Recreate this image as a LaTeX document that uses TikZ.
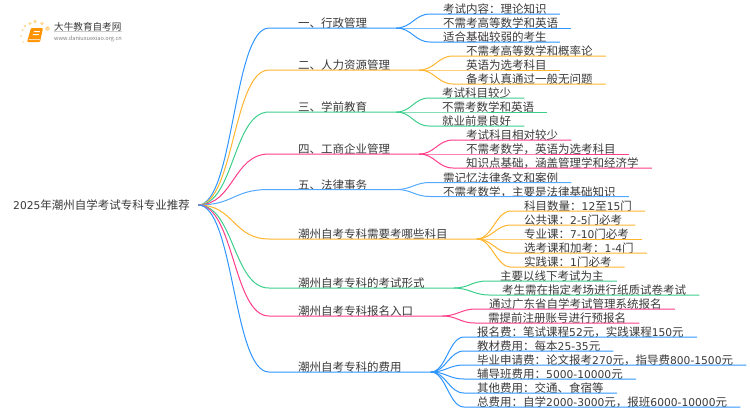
\documentclass[tikz,border=0pt]{standalone}
\usepackage{fontspec}
\setmainfont{Noto Sans CJK SC}
\setsansfont{Noto Sans CJK SC}
\newfontfamily\numfont[Scale=0.93]{DejaVu Sans}
\newcommand{\nb}[1]{{\numfont #1}}
\usetikzlibrary{backgrounds}

\definecolor{mapblue}{HTML}{2F96FF}
\definecolor{maporange}{HTML}{FFB52E}
\definecolor{mapgreen}{HTML}{3CCF8C}
\definecolor{mappink}{HTML}{FF3D8B}
\definecolor{mapsky}{HTML}{55AAFF}
\definecolor{maptext}{HTML}{3A3A3A}

\begin{document}
\begin{tikzpicture}
  [
    x = 1pt,
    y = -1pt,
    show background rectangle,
    background rectangle/.style = {fill=white},
    inner frame sep = 0pt,
    root label/.style = {anchor=west,inner xsep=8pt,inner ysep=0pt,font=\fontsize{11.5}{12}\selectfont,text=maptext},
    topic/.style = {anchor=south west,inner xsep=29pt,inner ysep=0pt,text depth=0pt,font=\fontsize{11.5}{12}\selectfont,text=maptext},
    leaf/.style = {anchor=south west,inner xsep=13pt,inner ysep=0pt,text depth=0pt,font=\fontsize{11.5}{12}\selectfont,text=maptext},
    map line/.style = {line width=1pt},
    far/.style = {to path={.. controls +(36,0) and +(-36,0) .. (\tikztotarget)}},
    near/.style = {to path={.. controls +(15,0) and +(-15,0) .. (\tikztotarget)}},
    sun/.style = {fill=maporange!50,draw=none},
    logo name/.style = {anchor=west,inner sep=0pt,font=\fontsize{9.6}{10}\selectfont,text=maptext},
    logo url/.style = {anchor=west,inner sep=0pt,font=\fontsize{5.6}{6}\selectfont,text=black!50},
  ]

  \useasboundingbox (0,0) rectangle (750,410);

  % logo
  \fill[sun] (25,26) circle (1.3);
  \fill[sun] (30,23.5) circle (1.7);
  \fill[sun] (35,21.5) circle (1.8);
  \fill[sun] (42,23.5) circle (1.9);
  \fill[sun] (47.5,28.5) circle (2.3);
  \fill[sun] (22.5,30) circle (1.2);
  \fill[sun] (21,36) circle (1);
  \fill[sun] (23,42) circle (.8);
  \fill[orange!85!yellow,rounded corners=1pt] (31,28) -- (43,28) -- (40,42) -- (27,42) -- cycle;
  \fill[white] (34,31) -- (40,31) -- (39.6,32) -- (33.6,32) -- cycle;
  \fill[white] (33,34) -- (39,34) -- (38.6,35) -- (32.6,35) -- cycle;
  \fill[orange!30] (29,39) -- (40.6,39) -- (40.3,40) -- (28.7,40) -- cycle;
  \node[logo name] (brand) at (54,27) {大牛教育自考网};
  \node[logo url] (site) at (54,38.5) {www.daniuxuexiao.org.cn};
  \draw[black!20,line width=.5pt] (brand.south west) -- (brand.south east);

  \node[root label] (root) at (5,205) {\nb{2025}年潮州自学考试专科专业推荐};

  % first five branches
  \node[topic] (admin) at (269,28) {一、行政管理};
  \node[leaf] (admin a) at (430,14) {考试内容：理论知识};
  \node[leaf] (admin b) at (430,28) {不需考高等数学和英语};
  \node[leaf] (admin c) at (430,42) {适合基础较弱的考生};
  \draw[map line,mapblue] (root.east) to[far] (admin.south west) -- (admin.south east);
  \draw[map line,mapblue] (admin.south east) to[near] (admin a.south west) -- (admin a.south east);
  \draw[map line,mapblue] (admin.south east) to[near] (admin b.south west) -- (admin b.south east);
  \draw[map line,mapblue] (admin.south east) to[near] (admin c.south west) -- (admin c.south east);

  \node[topic] (staff) at (269,70) {二、人力资源管理};
  \node[leaf] (staff a) at (453,56) {不需考高等数学和概率论};
  \node[leaf] (staff b) at (453,70) {英语为选考科目};
  \node[leaf] (staff c) at (453,84) {备考认真通过一般无问题};
  \draw[map line,maporange] (root.east) to[far] (staff.south west) -- (staff.south east);
  \draw[map line,maporange] (staff.south east) to[near] (staff a.south west) -- (staff a.south east);
  \draw[map line,maporange] (staff.south east) to[near] (staff b.south west) -- (staff b.south east);
  \draw[map line,maporange] (staff.south east) to[near] (staff c.south west) -- (staff c.south east);

  \node[topic] (pre) at (269,112) {三、学前教育};
  \node[leaf] (pre a) at (429,98) {考试科目较少};
  \node[leaf] (pre b) at (429,112) {不需考数学和英语};
  \node[leaf] (pre c) at (429,126) {就业前景良好};
  \draw[map line,mapgreen] (root.east) to[far] (pre.south west) -- (pre.south east);
  \draw[map line,mapgreen] (pre.south east) to[near] (pre a.south west) -- (pre a.south east);
  \draw[map line,mapgreen] (pre.south east) to[near] (pre b.south west) -- (pre b.south east);
  \draw[map line,mapgreen] (pre.south east) to[near] (pre c.south west) -- (pre c.south east);

  \node[topic] (biz) at (269,154) {四、工商企业管理};
  \node[leaf] (biz a) at (453,140) {考试科目相对较少};
  \node[leaf] (biz b) at (453,154) {不需考数学，英语为选考科目};
  \node[leaf] (biz c) at (453,168) {知识点基础，涵盖管理学和经济学};
  \draw[map line,mappink] (root.east) to[far] (biz.south west) -- (biz.south east);
  \draw[map line,mappink] (biz.south east) to[near] (biz a.south west) -- (biz a.south east);
  \draw[map line,mappink] (biz.south east) to[near] (biz b.south west) -- (biz b.south east);
  \draw[map line,mappink] (biz.south east) to[near] (biz c.south west) -- (biz c.south east);

  \node[topic] (law) at (269,189.5) {五、法律事务};
  \node[leaf] (law a) at (430,182.5) {需记忆法律条文和案例};
  \node[leaf] (law b) at (430,196.5) {不需考数学，主要是法律基础知识};
  \draw[map line,mapsky] (root.east) to[far] (law.south west) -- (law.south east);
  \draw[map line,mapsky] (law.south east) to[near] (law a.south west) -- (law a.south east);
  \draw[map line,mapsky] (law.south east) to[near] (law b.south west) -- (law b.south east);

  % lower branches
  \node[topic] (subj) at (269,239) {潮州自考专科需要考哪些科目};
  \node[leaf] (subj a) at (511,211) {科目数量：\nb{12}至\nb{15}门};
  \node[leaf] (subj b) at (511,225) {公共课：\nb{2-5}门必考};
  \node[leaf] (subj c) at (511,239) {专业课：\nb{7-10}门必考};
  \node[leaf] (subj d) at (511,253) {选考课和加考：\nb{1-4}门};
  \node[leaf] (subj e) at (511,267) {实践课：\nb{1}门必考};
  \draw[map line,maporange] (root.east) to[far] (subj.south west) -- (subj.south east);
  \draw[map line,maporange] (subj.south east) to[near] (subj a.south west) -- (subj a.south east);
  \draw[map line,maporange] (subj.south east) to[near] (subj b.south west) -- (subj b.south east);
  \draw[map line,maporange] (subj.south east) to[near] (subj c.south west) -- (subj c.south east);
  \draw[map line,maporange] (subj.south east) to[near] (subj d.south west) -- (subj d.south east);
  \draw[map line,maporange] (subj.south east) to[near] (subj e.south west) -- (subj e.south east);

  \node[topic] (form) at (269,288) {潮州自考专科的考试形式};
  \node[leaf] (form a) at (487,281) {主要以线下考试为主};
  \node[leaf] (form b) at (489,295) {考生需在指定考场进行纸质试卷考试};
  \draw[map line,mapgreen] (root.east) to[far] (form.south west) -- (form.south east);
  \draw[map line,mapgreen] (form.south east) to[near] (form a.south west) -- (form a.south east);
  \draw[map line,mapgreen] (form.south east) to[near] (form b.south west) -- (form b.south east);

  \node[topic] (entry) at (269,316) {潮州自考专科报名入口};
  \node[leaf] (entry a) at (476,309) {通过广东省自学考试管理系统报名};
  \node[leaf] (entry b) at (475,323) {需提前注册账号进行预报名};
  \draw[map line,mappink] (root.east) to[far] (entry.south west) -- (entry.south east);
  \draw[map line,mappink] (entry.south east) to[near] (entry a.south west) -- (entry a.south east);
  \draw[map line,mappink] (entry.south east) to[near] (entry b.south west) -- (entry b.south east);

  \node[topic] (fee) at (269,372) {潮州自考专科的费用};
  \node[leaf] (fee a) at (464,337) {报名费：笔试课程\nb{52}元，实践课程\nb{150}元};
  \node[leaf] (fee b) at (464,351) {教材费用：每本\nb{25-35}元};
  \node[leaf] (fee c) at (464,365) {毕业申请费：论文报考\nb{270}元，指导费\nb{800-1500}元};
  \node[leaf] (fee d) at (464,379) {辅导班费用：\nb{5000-10000}元};
  \node[leaf] (fee e) at (464,393) {其他费用：交通、食宿等};
  \node[leaf] (fee f) at (464,407) {总费用：自学\nb{2000-3000}元，报班\nb{6000-10000}元};
  \draw[map line,mapblue] (root.east) to[far] (fee.south west) -- (fee.south east);
  \draw[map line,mapblue] (fee.south east) to[near] (fee a.south west) -- (fee a.south east);
  \draw[map line,mapblue] (fee.south east) to[near] (fee b.south west) -- (fee b.south east);
  \draw[map line,mapblue] (fee.south east) to[near] (fee c.south west) -- (fee c.south east);
  \draw[map line,mapblue] (fee.south east) to[near] (fee d.south west) -- (fee d.south east);
  \draw[map line,mapblue] (fee.south east) to[near] (fee e.south west) -- (fee e.south east);
  \draw[map line,mapblue] (fee.south east) to[near] (fee f.south west) -- (fee f.south east);

\end{tikzpicture}
\end{document}
